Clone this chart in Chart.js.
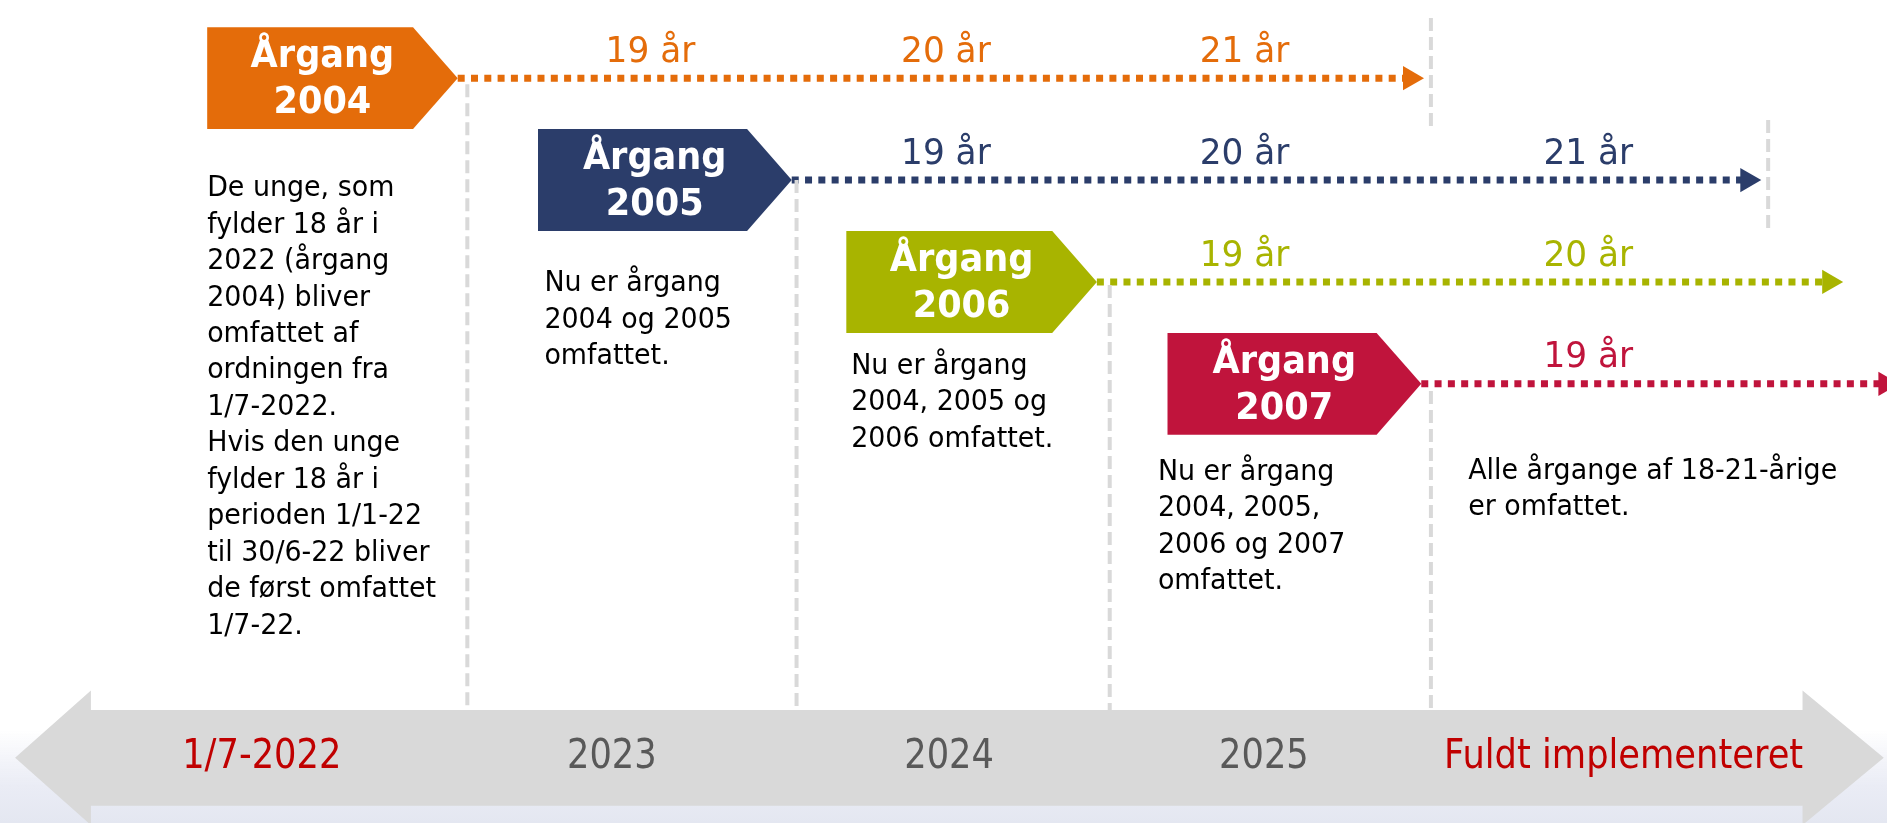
<!DOCTYPE html>
<html>
<head>
<meta charset="utf-8">
<script src="https://cdn.jsdelivr.net/npm/chart.js@4.4.1/dist/chart.umd.min.js"></script>
<style>
html, body { margin: 0; padding: 0; background: #fff; overflow: hidden; }
canvas { display: block; }
</style>
</head>
<body>
<canvas id="timeline" width="1887" height="823"></canvas>
<script>
// periods along the bottom arrow (x in timeline units, 1 = end of 1/7-2022 column)
const periodLabels = ['1/7-2022', '2023', '2024', '2025', 'Fuldt implementeret'];
const periodPos = [0.36, 1.45, 2.5, 3.48, 4.6];
const periodColors = ['#c00000', '#595959', '#595959', '#595959', '#c00000'];

// cohorts (årgange), one row each
const cohorts = ['2004', '2005', '2006', '2007'];
const cohortColors = ['#e46c0a', '#2b3d6a', '#a8b400', '#c0143c'];
const boxStart = [0.19, 1.22, 2.18, 3.18];
const arrowStart = [0.97, 2.01, 2.96, 3.97];
const arrowEnd = [3.935, 4.985, 5.24, 5.415];

// age labels above each arrow
const ageCols = [1.57, 2.49, 3.42, 4.49];
const ageLabels = [
    ['19 år', '20 år', '21 år'],
    ['19 år', '20 år', '21 år'],
    ['19 år', '20 år'],
    ['19 år']
];
const ageFirstCol = [0, 1, 2, 3];

// dashed gray guides
const guideX = [1, 2.025, 3, 4, 4, 5.05];
const guideTop = [0.06, 1.0, 2.03, -0.59, 3.07, 0.41];
const guideBottom = [6.2, 6.2, 6.2, 0.47, 6.2, 1.48];

// notes under the boxes
const notes = [
    ['De unge, som', 'fylder 18 år i', '2022 (årgang', '2004) bliver', 'omfattet af', 'ordningen fra', '1/7-2022.',
     'Hvis den unge', 'fylder 18 år i', 'perioden 1/1-22', 'til 30/6-22 bliver', 'de først omfattet', '1/7-22.'],
    ['Nu er årgang', '2004 og 2005', 'omfattet.'],
    ['Nu er årgang', '2004, 2005 og', '2006 omfattet.'],
    ['Nu er årgang', '2004, 2005,', '2006 og 2007', 'omfattet.'],
    ['Alle årgange af 18-21-årige', 'er omfattet.']
];
const noteX = [0.19, 1.24, 2.195, 3.15, 4.116];
const noteY = [1.086, 2.02, 2.83, 3.87, 3.86];
const noteLine = 0.358;

const bandY = 6.67;
const FONT = '"DejaVu Sans", Verdana, sans-serif';

const datasets = [];
guideX.forEach((gx, i) => {
    datasets.push({
        type: 'line',
        data: [{x: gx, y: guideTop[i]}, {x: gx, y: guideBottom[i]}],
        borderColor: '#d9d9d9',
        borderWidth: 4,
        borderDash: [13, 6],
        pointRadius: 0
    });
});
cohorts.forEach((c, i) => {
    datasets.push({
        type: 'line',
        data: [{x: arrowStart[i], y: i}, {x: arrowEnd[i], y: i}],
        borderColor: cohortColors[i],
        borderWidth: 7,
        borderDash: [7, 6.3],
        pointStyle: 'triangle',
        pointRotation: 90,
        pointRadius: [0, 14],
        pointBorderWidth: 0,
        pointBackgroundColor: cohortColors[i]
    });
});

// text with a horizontal squeeze to mimic the narrow original face
function drawText(ctx, s, px, py, font, color, align, sx) {
    ctx.save();
    ctx.translate(px, py);
    ctx.scale(sx || 1, 1);
    ctx.font = font;
    ctx.fillStyle = color;
    ctx.textAlign = align || 'center';
    ctx.textBaseline = 'middle';
    ctx.fillText(s, 0, 0);
    ctx.restore();
}

const decor = {
    id: 'decor',
    beforeDatasetsDraw(chart) {
        const {ctx, scales: {x, y}, width, height} = chart;
        ctx.save();
        // soft lavender fade at the bottom
        const g = ctx.createLinearGradient(0, 730, 0, height);
        g.addColorStop(0, 'rgba(232,234,244,0)');
        g.addColorStop(0.6, '#eaecf5');
        g.addColorStop(1, '#e4e7f1');
        ctx.fillStyle = g;
        ctx.fillRect(0, 730, width, height - 730);

        // gray double arrow
        const cy = y.getPixelForValue(bandY);
        const bTop = y.getPixelForValue(bandY - 0.47), bBot = y.getPixelForValue(bandY + 0.47);
        const hTop = y.getPixelForValue(bandY - 0.66), hBot = y.getPixelForValue(bandY + 0.66);
        const lTip = x.getPixelForValue(-0.408), lBase = x.getPixelForValue(-0.172);
        const rBase = x.getPixelForValue(5.157), rTip = x.getPixelForValue(5.41);
        ctx.fillStyle = '#d9d9d9';
        ctx.beginPath();
        ctx.moveTo(lTip, cy);
        ctx.lineTo(lBase, hTop);
        ctx.lineTo(lBase, bTop);
        ctx.lineTo(rBase, bTop);
        ctx.lineTo(rBase, hTop);
        ctx.lineTo(rTip, cy);
        ctx.lineTo(rBase, hBot);
        ctx.lineTo(rBase, bBot);
        ctx.lineTo(lBase, bBot);
        ctx.lineTo(lBase, hBot);
        ctx.closePath();
        ctx.fill();
        ctx.restore();
    },
    afterDatasetsDraw(chart) {
        const {ctx, scales: {x, y}} = chart;
        ctx.save();
        // cohort boxes
        cohorts.forEach((c, i) => {
            const left = x.getPixelForValue(boxStart[i]);
            const tip = x.getPixelForValue(arrowStart[i]);
            const base = x.getPixelForValue(arrowStart[i] - 0.139);
            const top = y.getPixelForValue(i - 0.5), bot = y.getPixelForValue(i + 0.5);
            const cy = y.getPixelForValue(i);
            ctx.fillStyle = cohortColors[i];
            ctx.beginPath();
            ctx.moveTo(left, top);
            ctx.lineTo(base, top);
            ctx.lineTo(tip, cy);
            ctx.lineTo(base, bot);
            ctx.lineTo(left, bot);
            ctx.closePath();
            ctx.fill();
            const tx = x.getPixelForValue(boxStart[i] + 0.46 * (arrowStart[i] - boxStart[i]));
            drawText(ctx, 'Årgang', tx, y.getPixelForValue(i - 0.2), 'bold 37px ' + FONT, '#fff', 'center', 0.95);
            drawText(ctx, c, tx, y.getPixelForValue(i + 0.25), 'bold 37px ' + FONT, '#fff', 'center', 0.95);

            // ages above the arrow
            ageLabels[i].forEach((a, j) => {
                drawText(ctx, a, x.getPixelForValue(ageCols[ageFirstCol[i] + j]),
                    y.getPixelForValue(i - 0.25), '35px ' + FONT, cohortColors[i], 'center', 0.98);
            });
        });

        // notes
        notes.forEach((lines, i) => {
            lines.forEach((s, j) => {
                drawText(ctx, s, x.getPixelForValue(noteX[i]),
                    y.getPixelForValue(noteY[i] + j * noteLine), '28px ' + FONT, '#000', 'left', 0.96);
            });
        });

        // period labels on the band
        periodLabels.forEach((s, i) => {
            drawText(ctx, s, x.getPixelForValue(periodPos[i]), y.getPixelForValue(bandY),
                '41px ' + FONT, periodColors[i], 'center', 0.86);
        });
        ctx.restore();
    }
};

new Chart(document.getElementById('timeline'), {
    type: 'scatter',
    data: { datasets: datasets },
    options: {
        responsive: false,
        animation: false,
        events: [],
        layout: { padding: 0, autoPadding: false },
        plugins: {
            legend: { display: false },
            tooltip: { enabled: false }
        },
        scales: {
            x: { type: 'linear', min: -0.455, max: 5.42, display: false },
            y: { type: 'linear', min: -0.767, max: 7.31, reverse: true, display: false }
        }
    },
    plugins: [decor]
});
</script>
</body>
</html>
